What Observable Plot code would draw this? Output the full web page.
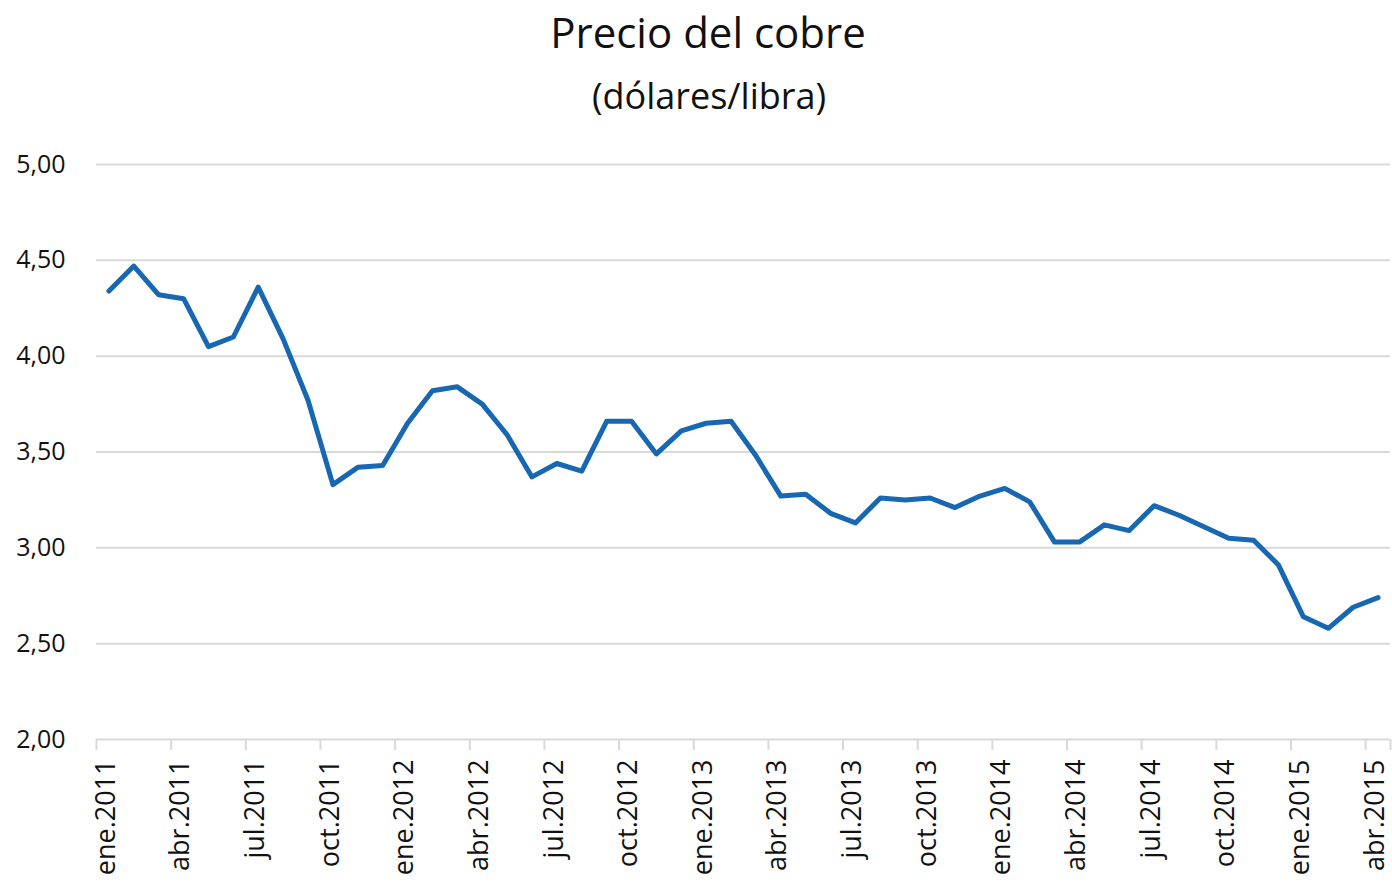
<!DOCTYPE html>
<html>
<head>
<meta charset="utf-8">
<script src="https://cdn.jsdelivr.net/npm/d3@7"></script>
<script src="https://cdn.jsdelivr.net/npm/@observablehq/plot@0.6"></script>
<style>
  html, body { margin: 0; padding: 0; background: #fff; }
  #wrap { position: relative; width: 1392px; height: 885px; font-family: "Open Sans", Lato, sans-serif; color: #111; }
  #head { position: relative; height: 140px; }
  #title { position: absolute; left: 708px; top: 3px; transform: translateX(-50%); font-size: 42px; white-space: nowrap; }
  #subtitle { position: absolute; left: 709px; top: 71px; transform: translateX(-50%); font-size: 36px; white-space: nowrap; }
  svg { display: block; }
</style>
</head>
<body>
<div id="wrap">
  <div id="head">
    <div id="title">Precio del cobre</div>
    <div id="subtitle">(dólares/libra)</div>
  </div>
  <div id="chart"></div>
</div>
<script>
const months = ["ene", "feb", "mar", "abr", "may", "jun", "jul", "ago", "sep", "oct", "nov", "dic"];
const years = [2011, 2012, 2013, 2014, 2015];
const prices = [
  4.34, 4.47, 4.32, 4.30, 4.05, 4.10, 4.36, 4.09, 3.77, 3.33, 3.42, 3.43,
  3.65, 3.82, 3.84, 3.75, 3.59, 3.37, 3.44, 3.40, 3.66, 3.66, 3.49, 3.61,
  3.65, 3.66, 3.48, 3.27, 3.28, 3.18, 3.13, 3.26, 3.25, 3.26, 3.21, 3.27,
  3.31, 3.24, 3.03, 3.03, 3.12, 3.09, 3.22, 3.17, 3.11, 3.05, 3.04, 2.91,
  2.64, 2.58, 2.69, 2.74
];
const yTicks = [2, 2.5, 3, 3.5, 4, 4.5, 5];

const labels = prices.map((_, i) => months[i % 12] + "." + years[Math.floor(i / 12)]);
const data = prices.map((v, i) => ({i, label: labels[i], value: v}));
const labelIdx = data.filter(d => d.i % 3 === 0).map(d => d.i);
const boundaries = labelIdx.map(i => i - 0.5).concat([prices.length - 0.5]);

const fmt = d => d.toFixed(2).replace(".", ",");

const chart = Plot.plot({
  width: 1392,
  height: 745,
  marginTop: 24,
  marginBottom: 146,
  marginLeft: 96,
  marginRight: 2,
  style: {fontFamily: "'Open Sans', Lato, sans-serif", fontSize: "24px", color: "#111", background: "#fff"},
  x: {type: "linear", domain: [-0.5, prices.length - 0.5]},
  y: {domain: [2, 5]},
  marks: [
    Plot.gridY(yTicks, {stroke: "#d9d9d9", strokeOpacity: 1, strokeWidth: 2}),
    Plot.axisX(boundaries, {tickSize: 11, stroke: "#d9d9d9", strokeWidth: 2, tickFormat: () => "", label: null}),
    Plot.axisY(yTicks, {tickSize: 0, tickPadding: 31, tickFormat: fmt, fill: "#111", fontSize: 25, label: null}),
    Plot.axisX(labelIdx, {tickSize: 0, tickPadding: 20, tickRotate: -90, dx: -3, tickFormat: i => labels[i], fill: "#111", fontSize: 27, label: null}),
    Plot.line(data, {x: "i", y: "value", stroke: "#1767b3", strokeWidth: 5, strokeLinejoin: "round", strokeLinecap: "round"})
  ]
});
document.getElementById("chart").appendChild(chart);
</script>
</body>
</html>
